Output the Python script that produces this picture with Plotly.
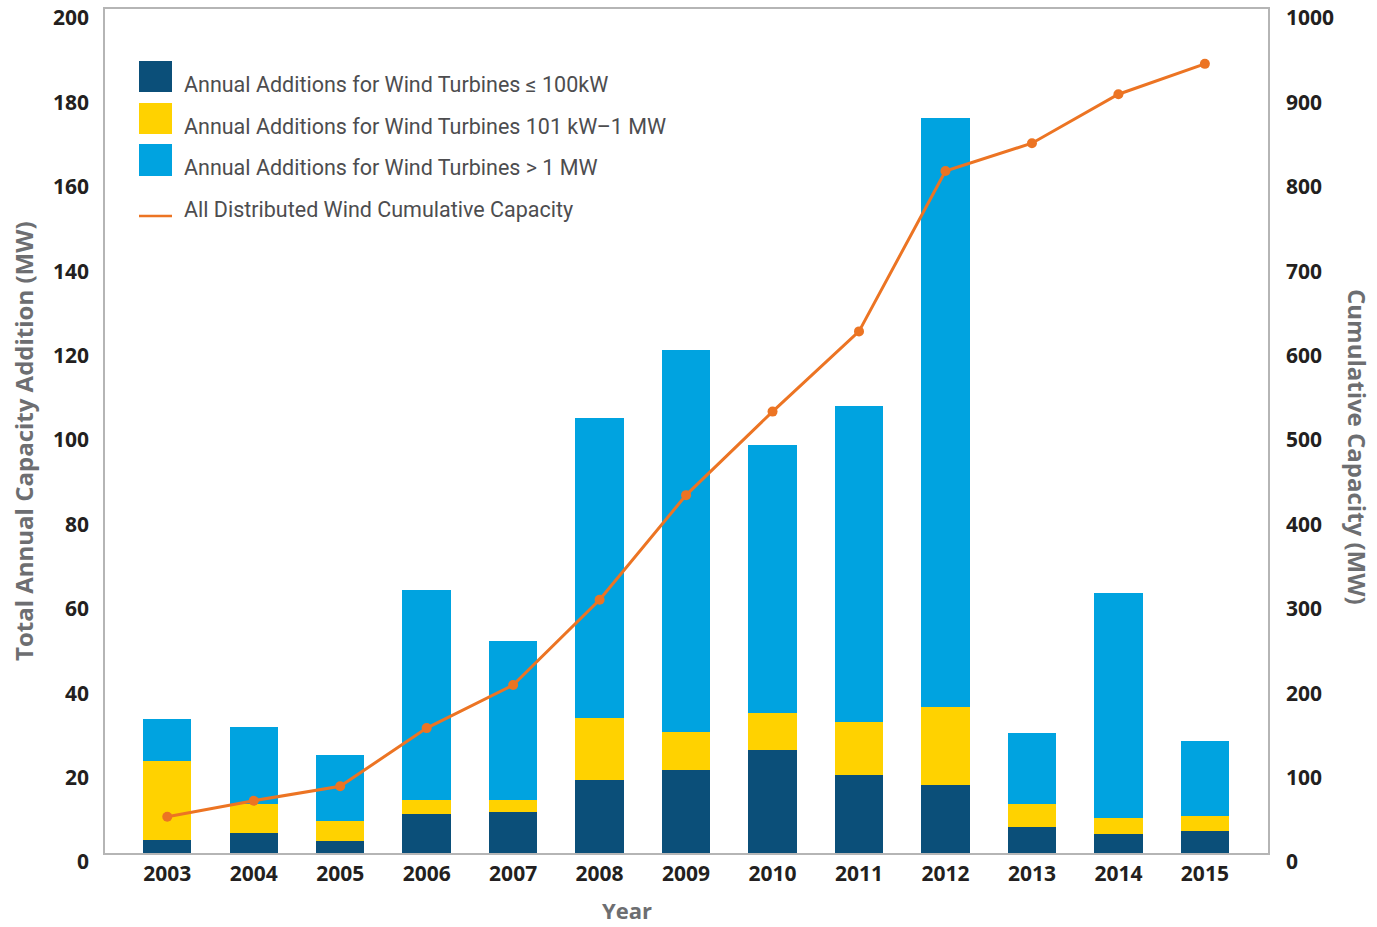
import plotly.graph_objects as go

years = ["2003", "2004", "2005", "2006", "2007", "2008", "2009", "2010",
         "2011", "2012", "2013", "2014", "2015"]
small = [3.1, 4.8, 2.9, 9.2, 9.7, 17.3, 19.7, 24.4, 18.6, 16.1, 6.1, 4.4, 5.3]
mid = [18.7, 6.8, 4.8, 3.4, 2.9, 14.8, 9.0, 8.7, 12.5, 18.4, 5.5, 4.0, 3.5]
large = [10.0, 18.3, 15.5, 49.7, 37.6, 71.0, 90.5, 63.7, 74.8, 139.6, 16.8, 53.2, 17.8]
cumulative = [43, 62, 79, 148, 199, 300, 424, 523, 618, 808, 841, 899, 935]

names = ["Annual Additions for Wind Turbines \u2264 100kW",
         "Annual Additions for Wind Turbines 101 kW\u20131 MW",
         "Annual Additions for Wind Turbines > 1 MW",
         "All Distributed Wind Cumulative Capacity"]
colors = ["#0b4f79", "#ffd200", "#00a3e0", "#ec7423"]

W, H = 1377, 927
L, R, T, B = 105, 1268, 9, 853

fig = go.Figure()
for vals, nm, col in zip([small, mid, large], names[:3], colors[:3]):
    fig.add_trace(go.Bar(x=years, y=vals, name=nm, marker=dict(color=col, line=dict(width=0)),
                         width=0.56, showlegend=False))
fig.add_trace(go.Scatter(x=years, y=cumulative, name=names[3], yaxis="y2", mode="lines+markers",
                         line=dict(color=colors[3], width=3), marker=dict(size=10, color=colors[3]),
                         showlegend=False))

def px(x):
    return (x - L) / (R - L)

def py(y):
    return (B - y) / (B - T)

shapes = []
annotations = []
# custom legend
rows = [(61, 92), (103, 134), (144, 176)]
for (y0, y1), col in zip(rows, colors[:3]):
    shapes.append(dict(type="rect", xref="paper", yref="paper", x0=px(139), x1=px(172),
                       y0=py(y1), y1=py(y0), fillcolor=col, line=dict(width=0)))
shapes.append(dict(type="line", xref="paper", yref="paper", x0=px(139), x1=px(172),
                   y0=py(216), y1=py(216), line=dict(color=colors[3], width=2.5)))
for nm, yc in zip(names, [84, 126, 167, 209]):
    annotations.append(dict(text=nm, xref="paper", yref="paper", x=px(182), y=py(yc),
                            xanchor="left", yanchor="middle", showarrow=False,
                            font=dict(family="Roboto", size=21.5, color="#4d4d4f")))

title_font = dict(family="Open Sans", size=24, color="#6d6e71", weight="bold")
annotations.append(dict(text="Total Annual Capacity Addition (MW)", xref="paper", yref="paper",
                        x=px(24), y=py(441), textangle=-90, showarrow=False,
                        xanchor="center", yanchor="middle", font=title_font))
annotations.append(dict(text="Cumulative Capacity (MW)", xref="paper", yref="paper",
                        x=px(1358), y=py(447), textangle=90, showarrow=False,
                        xanchor="center", yanchor="middle", font=title_font))
annotations.append(dict(text="Year", xref="paper", yref="paper",
                        x=px(627), y=py(910), showarrow=False,
                        xanchor="center", yanchor="middle",
                        font=dict(family="Open Sans", size=22, color="#6d6e71", weight="bold")))

tick_font = dict(family="Open Sans", size=21, color="#231f20", weight="bold")
frame = "#b5b5b5"

fig.update_layout(
    width=W, height=H,
    margin=dict(l=L, r=W - R, t=T, b=H - B, autoexpand=False),
    paper_bgcolor="white", plot_bgcolor="white",
    barmode="stack",
    xaxis=dict(type="category", range=[-0.72, 12.73], showgrid=False, ticks="",
               tickfont=tick_font, showline=True, linecolor=frame, linewidth=1.5,
               mirror=True, ticklabelstandoff=1),
    yaxis=dict(range=[0, 200], tickvals=list(range(0, 201, 20)), showgrid=False,
               zeroline=False, tickfont=tick_font, showline=True, linecolor=frame,
               linewidth=1.5, ticks="", ticklabelstandoff=10, ticklabelshift=9),
    yaxis2=dict(range=[0, 1000], tickvals=list(range(0, 1001, 100)), overlaying="y",
                side="right", showgrid=False, zeroline=False, tickfont=tick_font,
                showline=True, linecolor=frame, linewidth=1.5, ticks="",
                ticklabelstandoff=12, ticklabelshift=9),
    shapes=shapes, annotations=annotations,
)

fig.write_html("out.html", config={"displayModeBar": False},
               post_script="document.body.style.margin='0';")
